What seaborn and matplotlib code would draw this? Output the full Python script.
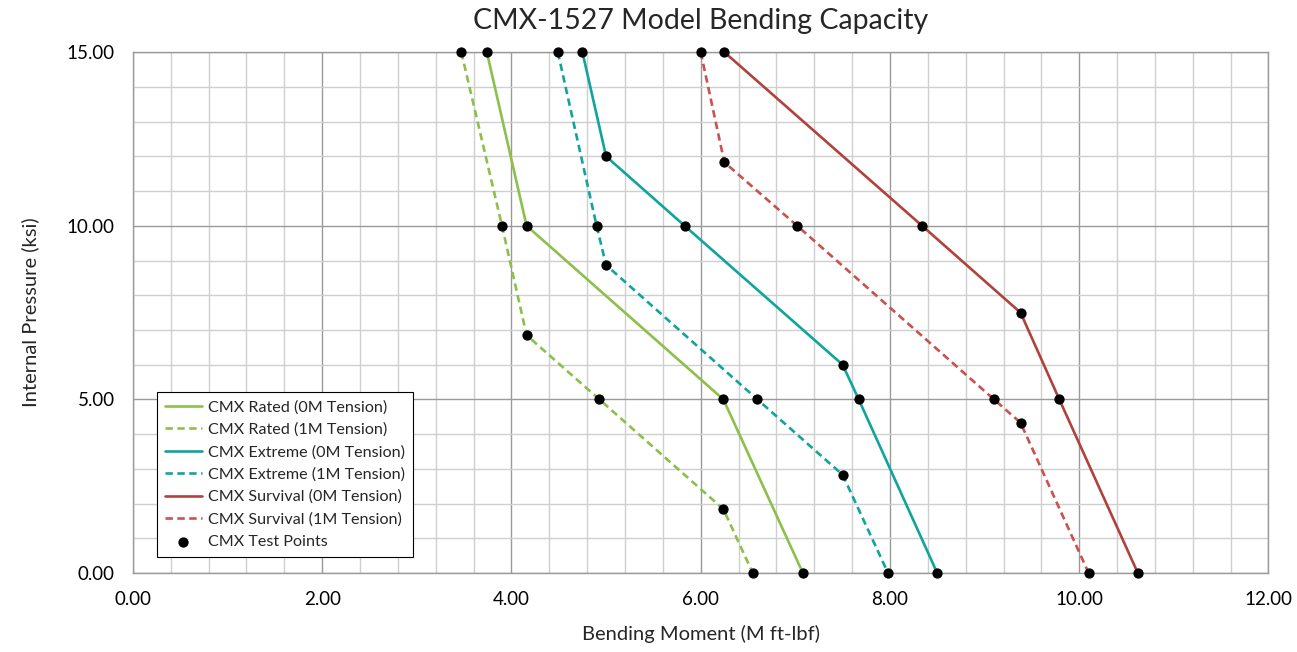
import numpy as np
import pandas as pd
import matplotlib.pyplot as plt
import seaborn as sns
from matplotlib.ticker import MultipleLocator, FormatStrFormatter

# 資料 (Bending Moment M ft-lbf, Internal Pressure ksi)
rated_0m_x = [3.74, 4.16, 6.24, 7.08]
rated_0m_y = [15, 10, 5, 0]
rated_1m_x = [3.47, 3.90, 4.16, 4.93, 6.24, 6.55]
rated_1m_y = [15, 10, 6.85, 5, 1.84, 0]
extreme_0m_x = [4.75, 5.00, 5.83, 7.50, 7.67, 8.50]
extreme_0m_y = [15, 12, 10, 6, 5, 0]
extreme_1m_x = [4.49, 4.90, 5.00, 6.60, 7.50, 7.98]
extreme_1m_y = [15, 10, 8.87, 5, 2.83, 0]
survival_0m_x = [6.25, 8.34, 9.38, 9.79, 10.62]
survival_0m_y = [15, 10, 7.5, 5, 0]
survival_1m_x = [6.00, 6.25, 7.02, 9.10, 9.38, 10.10]
survival_1m_y = [15, 11.83, 10, 5, 4.33, 0]

series = [
    ('CMX Rated (0M Tension)', rated_0m_x, rated_0m_y, '#8CC04A', '-'),
    ('CMX Rated (1M Tension)', rated_1m_x, rated_1m_y, '#8CC04A', '--'),
    ('CMX Extreme (0M Tension)', extreme_0m_x, extreme_0m_y, '#10A59C', '-'),
    ('CMX Extreme (1M Tension)', extreme_1m_x, extreme_1m_y, '#10A59C', '--'),
    ('CMX Survival (0M Tension)', survival_0m_x, survival_0m_y, '#B0423C', '-'),
    ('CMX Survival (1M Tension)', survival_1m_x, survival_1m_y, '#C9514E', '--'),
]

# 測試點 = 各曲線頂點
test_x = np.concatenate([s[1] for s in series])
test_y = np.concatenate([s[2] for s in series])

sns.set_style('white')
plt.rcParams['font.family'] = ['Lato', 'DejaVu Sans']

fig = plt.figure(figsize=(12.97, 6.52), dpi=100)
ax = fig.add_axes([0.1025, 0.121, 0.8755, 0.799])

for label, xs, ys, color, ls in series:
    df = pd.DataFrame({'x': xs, 'y': ys})
    kw = dict(dashes=(2.8, 1.7)) if ls == '--' else {}
    sns.lineplot(data=df, x='x', y='y', ax=ax, color=color, linewidth=1.9,
                 sort=False, estimator=None, label=label, zorder=3, **kw)

sns.scatterplot(x=test_x, y=test_y, ax=ax, color='black', s=55,
                edgecolor='black', linewidth=0, label='CMX Test Points',
                zorder=4, clip_on=False)

ax.set_xlim(0, 12)
ax.set_ylim(0, 15)
ax.xaxis.set_major_locator(MultipleLocator(2))
ax.xaxis.set_minor_locator(MultipleLocator(0.4))
ax.yaxis.set_major_locator(MultipleLocator(5))
ax.yaxis.set_minor_locator(MultipleLocator(1))
ax.xaxis.set_major_formatter(FormatStrFormatter('%.2f'))
ax.yaxis.set_major_formatter(FormatStrFormatter('%.2f'))
ax.grid(which='major', color='#9A9A9A', linewidth=1.0, zorder=0)
ax.grid(which='minor', color='#CFCFCF', linewidth=1.0, zorder=0)
ax.set_axisbelow(True)
ax.tick_params(which='both', length=0, labelsize=13.5, colors='black')
ax.tick_params(axis='x', pad=13)
ax.tick_params(axis='y', pad=13)
for sp in ax.spines.values():
    sp.set_color('#9A9A9A')
    sp.set_linewidth(1.0)

ax.set_title('CMX-1527 Model Bending Capacity', fontsize=20.5, pad=17)
ax.set_xlabel('Bending Moment (M ft-lbf)', fontsize=14.5, labelpad=12)
ax.set_ylabel('Internal Pressure (ksi)', fontsize=14.5, labelpad=20)

leg = ax.legend(loc='lower left', bbox_to_anchor=(0.021, 0.031), fontsize=11.6,
                frameon=True, fancybox=False, framealpha=1, edgecolor='black',
                handlelength=2.3, borderpad=0.5, labelspacing=0.5,
                handletextpad=0.4, borderaxespad=0)
leg.get_frame().set_linewidth(0.8)

fig.savefig('out.png', dpi=100)
